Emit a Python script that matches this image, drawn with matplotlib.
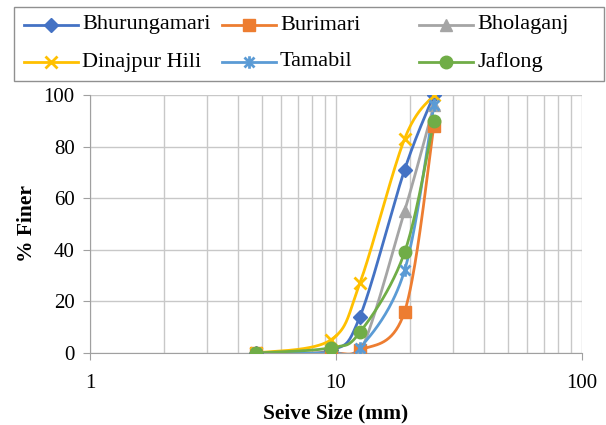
import numpy as np
import matplotlib.pyplot as plt
from matplotlib.lines import Line2D
from matplotlib.patches import Rectangle
from matplotlib.path import Path
from matplotlib.ticker import FixedLocator, NullFormatter

plt.rcParams['font.family'] = ['Liberation Serif', 'DejaVu Serif']

# sieve sizes (mm) and percent finer for each sample
sieve = [4.75, 9.5, 12.5, 19, 25]
bhurungamari = [0, 1, 14, 71, 100]
burimari = [0, 0, 1, 16, 88]
bholaganj = [0, 0, 0, 55, 96]
dinajpur_hili = [0, 5, 27, 83, 100]
tamabil = [0, 0, 2, 32, 96]
jaflong = [0, 2, 8, 39, 90]

# asterisk marker: vertical stroke plus an x
asterisk = Path([(0, -1), (0, 1), (-0.8, -0.8), (0.8, 0.8), (-0.8, 0.8), (0.8, -0.8)],
                [Path.MOVETO, Path.LINETO] * 3)

names = ['Bhurungamari', 'Burimari', 'Bholaganj', 'Dinajpur Hili', 'Tamabil', 'Jaflong']
values = [bhurungamari, burimari, bholaganj, dinajpur_hili, tamabil, jaflong]
colors = ['#4472C4', '#ED7D31', '#A5A5A5', '#FFC000', '#5B9BD5', '#70AD47']
markers = ['D', 's', '^', 'x', asterisk, 'o']
sizes = [7, 9, 8, 9, 9, 9]
widths = [1, 1, 1, 2, 2, 1]

W, H = 606, 425


def smooth(xs, ys, n=40):
    # bezier smoothing like a spreadsheet "smoothed line", done in log-x space
    lx = np.log10(xs)
    ys = np.asarray(ys, float)
    px, py = [], []
    m = len(lx)
    for i in range(m - 1):
        p0 = (lx[max(i - 1, 0)], ys[max(i - 1, 0)])
        p1 = (lx[i], ys[i])
        p2 = (lx[i + 1], ys[i + 1])
        p3 = (lx[min(i + 2, m - 1)], ys[min(i + 2, m - 1)])
        c1 = (p1[0] + (p2[0] - p0[0]) / 6, p1[1] + (p2[1] - p0[1]) / 6)
        c2 = (p2[0] - (p3[0] - p1[0]) / 6, p2[1] - (p3[1] - p1[1]) / 6)
        t = np.linspace(0, 1, n)
        bx = (1-t)**3*p1[0] + 3*(1-t)**2*t*c1[0] + 3*(1-t)*t**2*c2[0] + t**3*p2[0]
        by = (1-t)**3*p1[1] + 3*(1-t)**2*t*c1[1] + 3*(1-t)*t**2*c2[1] + t**3*p2[1]
        px.extend(bx)
        py.extend(by)
    return 10 ** np.array(px), np.array(py)


fig = plt.figure(figsize=(W / 100, H / 100), dpi=100)
ax = fig.add_axes([90 / W, 1 - 353 / H, 492 / W, 258 / H])

for name, vals, c, mk, ms, mw in zip(names, values, colors, markers, sizes, widths):
    sx, sy = smooth(sieve, vals)
    ax.plot(sx, sy, color=c, lw=2, zorder=3)
    ax.plot(sieve, vals, ls='none', marker=mk, color=c, ms=ms, mew=mw, zorder=4)

ax.set_xscale('log')
ax.set_xlim(1, 100)
ax.set_ylim(0, 100)
ax.set_yticks(range(0, 101, 20))
ax.xaxis.set_major_locator(FixedLocator([1, 10, 100]))
ax.xaxis.set_minor_locator(FixedLocator([i * d for d in (1, 10) for i in range(2, 10)]))
ax.xaxis.set_minor_formatter(NullFormatter())
ax.set_xticklabels(['1', '10', '100'])
ax.grid(True, which='both', color='#c8c8c8', lw=1)
ax.set_axisbelow(True)
for s in ('top', 'right'):
    ax.spines[s].set_visible(False)
for s in ('left', 'bottom'):
    ax.spines[s].set_color('#a0a0a0')
ax.tick_params(axis='both', which='major', labelsize=15, color='#a0a0a0', length=5)
ax.tick_params(axis='x', which='minor', length=0)
ax.tick_params(axis='x', pad=10)
ax.tick_params(axis='y', pad=6)
ax.set_xlabel('Seive Size (mm)', fontsize=15.5, fontweight='bold', va='center')
ax.set_ylabel('% Finer', fontsize=15.5, fontweight='bold', va='center')
ax.xaxis.set_label_coords(0.5, (353 - 413) / 258)
ax.yaxis.set_label_coords((27 - 90) / 492, 0.5)

# legend box, three columns filled row by row
fig.add_artist(Rectangle((14 / W, 1 - 81 / H), 590 / W, 74 / H, transform=fig.transFigure,
                         fill=False, edgecolor='#909090', lw=1))
col_x = [24, 222, 419]
row_y = [25, 62]
for i, (name, c, mk, ms, mw) in enumerate(zip(names, colors, markers, sizes, widths)):
    x0 = col_x[i % 3]
    y0 = 1 - row_y[i // 3] / H
    fig.add_artist(Line2D([x0 / W, (x0 + 54) / W], [y0, y0], color=c, lw=2,
                          transform=fig.transFigure))
    fig.add_artist(Line2D([(x0 + 27) / W], [y0], marker=mk, color=c, ms=ms, mew=mw,
                          transform=fig.transFigure))
    fig.text((x0 + 58) / W, y0, name, fontsize=16, va='center', ha='left')

fig.savefig('out.png', dpi=100)
